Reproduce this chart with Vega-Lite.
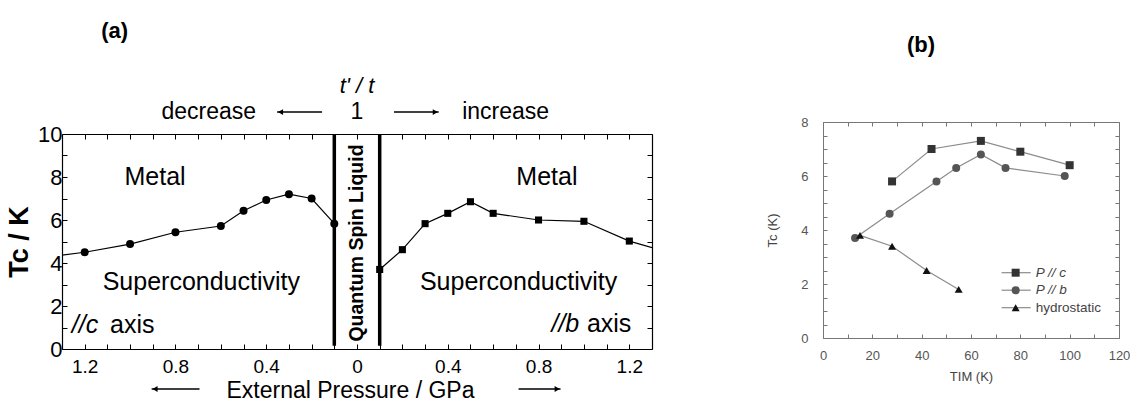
{
  "$schema": "https://vega.github.io/schema/vega-lite/v6.json",
  "padding": {"left": 5, "top": 20, "right": 0, "bottom": 0},
  "background": "white",
  "spacing": 113,
  "config": {
    "view": {"stroke": null},
    "font": "Liberation Sans",
    "axis": {"grid": false, "labelFont": "Liberation Sans", "titleFont": "Liberation Sans", "labelOverlap": false, "labelFlush": false},
    "text": {"font": "Liberation Sans"}
  },
  "hconcat": [
    {
      "width": 590,
      "height": 215,
      "data": {"values": [
        {"p": -1.4, "tc": 4.24, "s": "c"},
        {"p": -1.2, "tc": 4.5, "s": "c"},
        {"p": -1.0, "tc": 4.88, "s": "c"},
        {"p": -0.8, "tc": 5.43, "s": "c"},
        {"p": -0.6, "tc": 5.72, "s": "c"},
        {"p": -0.5, "tc": 6.43, "s": "c"},
        {"p": -0.4, "tc": 6.93, "s": "c"},
        {"p": -0.3, "tc": 7.2, "s": "c"},
        {"p": -0.2, "tc": 7.0, "s": "c"},
        {"p": -0.1, "tc": 5.83, "s": "c"},
        {"p": 0.1, "tc": 3.7, "s": "b"},
        {"p": 0.2, "tc": 4.62, "s": "b"},
        {"p": 0.3, "tc": 5.83, "s": "b"},
        {"p": 0.4, "tc": 6.31, "s": "b"},
        {"p": 0.5, "tc": 6.85, "s": "b"},
        {"p": 0.6, "tc": 6.31, "s": "b"},
        {"p": 0.8, "tc": 6.0, "s": "b"},
        {"p": 1.0, "tc": 5.94, "s": "b"},
        {"p": 1.2, "tc": 5.02, "s": "b"},
        {"p": 1.4, "tc": 4.4, "s": "b"}
      ]},
      "resolve": {"axis": {"x": "independent", "y": "independent"}},
      "layer": [
        {
          "mark": {"type": "line", "color": "black", "strokeWidth": 1.2, "clip": true},
          "encoding": {
            "x": {"field": "p", "type": "quantitative",
              "scale": {"domain": [-1.3, 1.3], "nice": false, "zero": false},
              "axis": {"orient": "bottom", "values": [-1.2,-1.1,-1.0,-0.9,-0.8,-0.7,-0.6,-0.5,-0.4,-0.3,-0.2,-0.1,0,0.1,0.2,0.3,0.4,0.5,0.6,0.7,0.8,0.9,1.0,1.1,1.2],
                "labelExpr": "abs(round(datum.value*10)) % 4 == 0 ? format(abs(datum.value), '.1~f') : ''",
                "tickSize": -5, "tickColor": "black", "domainColor": "black", "domainWidth": 1.2,
                "labelFontSize": 19, "labelColor": "black", "labelPadding": 13,
                "title": "External Pressure / GPa", "titleFontSize": 23, "titleFontWeight": "normal", "titleColor": "black", "titlePadding": 3, "titleX": 288}},
            "y": {"field": "tc", "type": "quantitative",
              "scale": {"domain": [0, 10], "nice": false, "zero": false},
              "axis": {"orient": "left", "values": [0,1,2,3,4,5,6,7,8,9,10],
                "labelExpr": "datum.value % 2 == 0 ? datum.label : ''",
                "tickSize": -5, "tickColor": "black", "domainColor": "black", "domainWidth": 1.2,
                "labelFontSize": 22, "labelColor": "black", "labelPadding": 5,
                "title": "Tc / K", "titleFontSize": 27, "titleFontWeight": "bold", "titleColor": "black", "titlePadding": 4}},
            "detail": {"field": "s"}
          }
        },
        {
          "data": {"values": [{"b": -0.1}, {"b": 0.1}]},
          "mark": {"type": "rule", "color": "black", "strokeWidth": 3.5},
          "encoding": {
            "x": {"field": "b", "type": "quantitative", "axis": null},
            "y": {"datum": 0.15, "axis": null},
            "y2": {"datum": 10}
          }
        },
        {
          "transform": [{"filter": "datum.s == 'c'"}],
          "mark": {"type": "point", "shape": "circle", "filled": true, "color": "black", "opacity": 1, "size": 64, "clip": true},
          "encoding": {
            "x": {"field": "p", "type": "quantitative",
              "axis": {"orient": "top", "values": [-1.2,-1.1,-1.0,-0.9,-0.8,-0.7,-0.6,-0.5,-0.4,-0.3,-0.2,-0.1,0,0.1,0.2,0.3,0.4,0.5,0.6,0.7,0.8,0.9,1.0,1.1,1.2],
                "labels": false, "tickSize": -5, "tickColor": "black", "domainColor": "black", "domainWidth": 1.2, "title": null}},
            "y": {"field": "tc", "type": "quantitative",
              "axis": {"orient": "right", "values": [0,1,2,3,4,5,6,7,8,9,10],
                "labels": false, "tickSize": -5, "tickColor": "black", "domainColor": "black", "domainWidth": 1.2, "title": null}}
          }
        },
        {
          "transform": [{"filter": "datum.s == 'b'"}],
          "mark": {"type": "square", "color": "black", "opacity": 1, "size": 50, "clip": true},
          "encoding": {
            "x": {"field": "p", "type": "quantitative", "axis": null},
            "y": {"field": "tc", "type": "quantitative", "axis": null}
          }
        },
        {
          "data": {"values": [{}]},
          "mark": {"type": "text", "text": "Quantum Spin Liquid", "angle": 270, "fontSize": 19.5, "fontWeight": "bold", "baseline": "middle", "align": "center"},
          "encoding": {"x": {"datum": 0, "axis": null}, "y": {"datum": 4.93, "axis": null}}
        },
        {
          "data": {"values": [{}]},
          "mark": {"type": "text", "text": "Metal", "fontSize": 25, "baseline": "middle", "align": "center"},
          "encoding": {"x": {"datum": -0.89, "axis": null}, "y": {"datum": 8.0, "axis": null}}
        },
        {
          "data": {"values": [{}]},
          "mark": {"type": "text", "text": "Superconductivity", "fontSize": 25, "baseline": "middle", "align": "center"},
          "encoding": {"x": {"datum": -0.686, "axis": null}, "y": {"datum": 3.12, "axis": null}}
        },
        {
          "data": {"values": [{}]},
          "mark": {"type": "text", "text": "//c", "fontSize": 25, "fontStyle": "italic", "baseline": "middle", "align": "left"},
          "encoding": {"x": {"datum": -1.257, "axis": null}, "y": {"datum": 1.12, "axis": null}}
        },
        {
          "data": {"values": [{}]},
          "mark": {"type": "text", "text": "axis", "fontSize": 25, "baseline": "middle", "align": "right"},
          "encoding": {"x": {"datum": -0.892, "axis": null}, "y": {"datum": 1.12, "axis": null}}
        },
        {
          "data": {"values": [{}]},
          "mark": {"type": "text", "text": "Metal", "fontSize": 25, "baseline": "middle", "align": "center"},
          "encoding": {"x": {"datum": 0.837, "axis": null}, "y": {"datum": 8.0, "axis": null}}
        },
        {
          "data": {"values": [{}]},
          "mark": {"type": "text", "text": "Superconductivity", "fontSize": 25, "baseline": "middle", "align": "center"},
          "encoding": {"x": {"datum": 0.712, "axis": null}, "y": {"datum": 3.13, "axis": null}}
        },
        {
          "data": {"values": [{}]},
          "mark": {"type": "text", "text": "//b", "fontSize": 25, "fontStyle": "italic", "baseline": "middle", "align": "left"},
          "encoding": {"x": {"datum": 0.857, "axis": null}, "y": {"datum": 1.16, "axis": null}}
        },
        {
          "data": {"values": [{}]},
          "mark": {"type": "text", "text": "axis", "fontSize": 25, "baseline": "middle", "align": "right"},
          "encoding": {"x": {"datum": 1.209, "axis": null}, "y": {"datum": 1.16, "axis": null}}
        },
        {
          "data": {"values": [{}]},
          "mark": {"type": "text", "text": "t' / t", "fontSize": 22, "fontStyle": "italic", "baseline": "middle", "align": "center"},
          "encoding": {"x": {"datum": 0, "axis": null}, "y": {"datum": 12.22, "axis": null}}
        },
        {
          "data": {"values": [{}]},
          "mark": {"type": "text", "text": "decrease", "fontSize": 23, "baseline": "middle", "align": "center"},
          "encoding": {"x": {"datum": -0.653, "axis": null}, "y": {"datum": 11.02, "axis": null}}
        },
        {
          "data": {"values": [{}]},
          "mark": {"type": "text", "text": "1", "fontSize": 23, "baseline": "middle", "align": "center"},
          "encoding": {"x": {"datum": 0, "axis": null}, "y": {"datum": 11.02, "axis": null}}
        },
        {
          "data": {"values": [{}]},
          "mark": {"type": "text", "text": "increase", "fontSize": 23, "baseline": "middle", "align": "center"},
          "encoding": {"x": {"datum": 0.655, "axis": null}, "y": {"datum": 11.02, "axis": null}}
        },
        {
          "data": {"values": [{}]},
          "mark": {"type": "rule", "color": "black", "strokeWidth": 1.4},
          "encoding": {"x": {"datum": -0.352, "axis": null}, "x2": {"datum": -0.154}, "y": {"datum": 11.02, "axis": null}}
        },
        {
          "data": {"values": [{}]},
          "mark": {"type": "point", "shape": "triangle-left", "filled": true, "color": "black", "opacity": 1, "size": 34},
          "encoding": {"x": {"datum": -0.337, "axis": null}, "y": {"datum": 11.02, "axis": null}}
        },
        {
          "data": {"values": [{}]},
          "mark": {"type": "rule", "color": "black", "strokeWidth": 1.4},
          "encoding": {"x": {"datum": 0.163, "axis": null}, "x2": {"datum": 0.36}, "y": {"datum": 11.02, "axis": null}}
        },
        {
          "data": {"values": [{}]},
          "mark": {"type": "point", "shape": "triangle-right", "filled": true, "color": "black", "opacity": 1, "size": 34},
          "encoding": {"x": {"datum": 0.345, "axis": null}, "y": {"datum": 11.02, "axis": null}}
        },
        {
          "data": {"values": [{}]},
          "mark": {"type": "rule", "color": "black", "strokeWidth": 1.4},
          "encoding": {"x": {"datum": -0.905, "axis": null}, "x2": {"datum": -0.694}, "y": {"datum": -1.86, "axis": null}}
        },
        {
          "data": {"values": [{}]},
          "mark": {"type": "point", "shape": "triangle-left", "filled": true, "color": "black", "opacity": 1, "size": 34},
          "encoding": {"x": {"datum": -0.89, "axis": null}, "y": {"datum": -1.86, "axis": null}}
        },
        {
          "data": {"values": [{}]},
          "mark": {"type": "rule", "color": "black", "strokeWidth": 1.4},
          "encoding": {"x": {"datum": 0.712, "axis": null}, "x2": {"datum": 0.897}, "y": {"datum": -1.86, "axis": null}}
        },
        {
          "data": {"values": [{}]},
          "mark": {"type": "point", "shape": "triangle-right", "filled": true, "color": "black", "opacity": 1, "size": 34},
          "encoding": {"x": {"datum": 0.882, "axis": null}, "y": {"datum": -1.86, "axis": null}}
        },
        {
          "data": {"values": [{}]},
          "mark": {"type": "text", "text": "(a)", "fontSize": 22, "fontWeight": "bold", "baseline": "middle", "align": "center"},
          "encoding": {"x": {"datum": -1.068, "axis": null}, "y": {"datum": 14.79, "axis": null}}
        }
      ]
    },
    {
      "width": 296,
      "height": 204,
      "resolve": {"scale": {"y": "independent"}},
      "layer": [
        {
          "data": {"values": [
            {"t": 28, "tc": 5.8, "series": "P // c"},
            {"t": 44, "tc": 7.0, "series": "P // c"},
            {"t": 64, "tc": 7.3, "series": "P // c"},
            {"t": 80, "tc": 6.9, "series": "P // c"},
            {"t": 100, "tc": 6.4, "series": "P // c"},
            {"t": 13, "tc": 3.7, "series": "P // b"},
            {"t": 27, "tc": 4.6, "series": "P // b"},
            {"t": 46, "tc": 5.8, "series": "P // b"},
            {"t": 54, "tc": 6.3, "series": "P // b"},
            {"t": 64, "tc": 6.8, "series": "P // b"},
            {"t": 74, "tc": 6.3, "series": "P // b"},
            {"t": 98, "tc": 6.0, "series": "P // b"},
            {"t": 15, "tc": 3.8, "series": "hydrostatic"},
            {"t": 28, "tc": 3.4, "series": "hydrostatic"},
            {"t": 42, "tc": 2.5, "series": "hydrostatic"},
            {"t": 55, "tc": 1.8, "series": "hydrostatic"}
          ]},
          "resolve": {"axis": {"x": "independent", "y": "independent"}},
          "layer": [
            {
              "mark": {"type": "line", "color": "#8c8c8c", "strokeWidth": 1.2},
              "encoding": {
                "x": {"field": "t", "type": "quantitative",
                  "scale": {"domain": [0, 120], "nice": false, "zero": false},
                  "axis": {"orient": "bottom", "values": [0,10,20,30,40,50,60,70,80,90,100,110,120],
                    "labelExpr": "datum.value % 20 == 0 ? datum.label : ''",
                    "tickSize": -4, "tickColor": "#777", "domainColor": "#777",
                    "labelFontSize": 13, "labelColor": "#555", "labelPadding": 15,
                    "title": "TIM (K)", "titleFontSize": 13, "titleFontWeight": "normal", "titleColor": "#444", "titlePadding": 8}},
                "y": {"field": "tc", "type": "quantitative",
                  "scale": {"domain": [0, 8], "nice": false, "zero": false, "range": [204, -12]},
                  "axis": {"orient": "left", "values": [0,0.5,1,1.5,2,2.5,3,3.5,4,4.5,5,5.5,6,6.5,7,7.5,8],
                    "labelExpr": "datum.value % 2 == 0 ? format(datum.value, 'd') : ''",
                    "tickSize": -4, "tickColor": "#777", "domainColor": "#777",
                    "labelFontSize": 13, "labelColor": "#555", "labelPadding": 19,
                    "title": "Tc (K)", "titleFontSize": 13, "titleFontWeight": "normal", "titleColor": "#444", "titlePadding": 21}},
                "detail": {"field": "series"}
              }
            },
            {
              "mark": {"type": "point", "filled": true, "opacity": 1, "size": 64},
              "encoding": {
                "x": {"field": "t", "type": "quantitative",
                  "axis": {"orient": "top", "offset": 12, "values": [0,10,20,30,40,50,60,70,80,90,100,110,120],
                    "labels": false, "tickSize": -4, "tickColor": "#777", "domainColor": "#777", "title": null}},
                "y": {"field": "tc", "type": "quantitative",
                  "axis": {"orient": "right", "values": [0,0.5,1,1.5,2,2.5,3,3.5,4,4.5,5,5.5,6,6.5,7,7.5,8],
                    "labels": false, "tickSize": -4, "tickColor": "#777", "domainColor": "#777", "title": null}},
                "shape": {"field": "series", "type": "nominal",
                  "scale": {"domain": ["P // c", "P // b", "hydrostatic"], "range": ["square", "circle", "triangle-up"]}, "legend": null},
                "color": {"field": "series", "type": "nominal",
                  "scale": {"domain": ["P // c", "P // b", "hydrostatic"], "range": ["#333333", "#555555", "#111111"]}, "legend": null}
              }
            },
            {
              "data": {"values": [{}]},
              "mark": {"type": "text", "text": "(b)", "fontSize": 22, "fontWeight": "bold", "baseline": "middle", "align": "center"},
              "encoding": {"x": {"datum": 39.7, "axis": null}, "y": {"datum": 10.85, "axis": null}}
            }
          ]
        },
        {
          "data": {"values": [
            {"series": "P // c"},
            {"series": "P // b"},
            {"series": "hydrostatic"}
          ]},
          "encoding": {
            "y": {"field": "series", "type": "nominal",
              "scale": {"type": "point", "domain": ["P // c", "P // b", "hydrostatic"], "range": [138.7, 173.7], "padding": 0},
              "axis": null}
          },
          "layer": [
            {
              "mark": {"type": "rule", "color": "#8c8c8c", "strokeWidth": 1.2},
              "encoding": {"x": {"datum": 72.4, "axis": null}, "x2": {"datum": 84.2}}
            },
            {
              "mark": {"type": "point", "filled": true, "opacity": 1, "size": 64},
              "encoding": {
                "x": {"datum": 78.1, "axis": null},
                "shape": {"field": "series", "type": "nominal", "legend": null},
                "color": {"field": "series", "type": "nominal", "legend": null}
              }
            },
            {
              "transform": [{"filter": "datum.series != 'hydrostatic'"}],
              "mark": {"type": "text", "fontSize": 13.5, "fontStyle": "italic", "color": "#444", "align": "left", "baseline": "middle"},
              "encoding": {"x": {"datum": 86.2, "axis": null}, "text": {"field": "series"}}
            },
            {
              "transform": [{"filter": "datum.series == 'hydrostatic'"}],
              "mark": {"type": "text", "fontSize": 13.5, "color": "#444", "align": "left", "baseline": "middle"},
              "encoding": {"x": {"datum": 86.2, "axis": null}, "text": {"field": "series"}}
            }
          ]
        }
      ]
    }
  ]
}
